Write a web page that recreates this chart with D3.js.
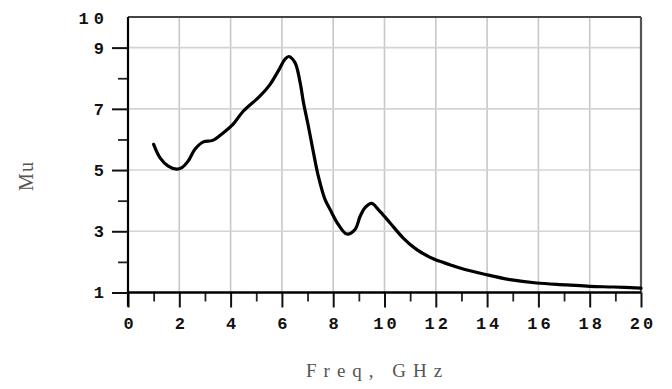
<!DOCTYPE html>
<html>
<head>
<meta charset="utf-8">
<script src="https://cdn.jsdelivr.net/npm/d3@7"></script>
<style>
  html, body { margin: 0; padding: 0; background: #fff; }
  svg { display: block; }
</style>
</head>
<body>
<svg id="chart" width="672" height="389"></svg>
<script>
// Permeability spectrum: Mu versus frequency (GHz)
const freq = [1.0, 1.25, 1.57, 1.9, 2.1, 2.35, 2.61, 2.94, 3.3, 3.72, 4.1, 4.5, 5.15, 5.54, 5.86, 6.12, 6.27, 6.51, 6.71, 6.84, 7.03, 7.23, 7.42, 7.68, 7.88, 8.2, 8.53, 8.85, 9.05, 9.24, 9.5, 9.76, 10.21, 10.73, 11.26, 11.9, 12.55, 12.94, 13.98, 14.89, 15.93, 17.1, 18.01, 18.92, 20.0];
const mu   = [5.84, 5.4, 5.13, 5.03, 5.08, 5.3, 5.68, 5.92, 5.97, 6.22, 6.5, 6.93, 7.42, 7.8, 8.24, 8.62, 8.71, 8.51, 7.86, 7.21, 6.44, 5.57, 4.8, 4.04, 3.71, 3.22, 2.91, 3.06, 3.49, 3.77, 3.91, 3.71, 3.28, 2.78, 2.4, 2.1, 1.91, 1.8, 1.58, 1.42, 1.31, 1.25, 1.2, 1.18, 1.14];

const xMajorTicks = [0, 2, 4, 6, 8, 10, 12, 14, 16, 18, 20];
const xMinorTicks = [1, 3, 5, 7, 9, 11, 13, 15, 17, 19];
const yMajorTicks = [1, 3, 5, 7, 9];
const yMinorTicks = [2, 4, 6, 8];
const yTopLabel = [10];

const xTitle = "Freq, GHz";
const yTitle = "Mu";

const svg = d3.select("#chart");
const mLeft = 128, mRight = 641, mTop = 17, mBottom = 292.5;

const x = d3.scaleLinear().domain([0, 20]).range([mLeft, mRight]);
const y = d3.scaleLinear().domain([1, 10]).range([mBottom, mTop]);

const tickFont = "'Liberation Mono', 'DejaVu Sans Mono', monospace";
const tickSize = 17, tickSpacing = 3;

// grid
svg.append("g").selectAll("line").data(xMajorTicks.slice(1, -1)).join("line")
  .attr("x1", d => x(d)).attr("x2", d => x(d))
  .attr("y1", mTop).attr("y2", mBottom)
  .attr("stroke", "#c8c8c8").attr("stroke-width", 1.6);
svg.append("g").selectAll("line").data(yMajorTicks.slice(1)).join("line")
  .attr("x1", mLeft).attr("x2", mRight)
  .attr("y1", d => y(d)).attr("y2", d => y(d))
  .attr("stroke", "#d4d4d4").attr("stroke-width", 1.6);

// frame: top and right
svg.append("line").attr("x1", mLeft).attr("x2", mRight).attr("y1", mTop).attr("y2", mTop)
  .attr("stroke", "#444").attr("stroke-width", 2);
svg.append("line").attr("x1", mRight).attr("x2", mRight).attr("y1", mTop).attr("y2", mBottom)
  .attr("stroke", "#555").attr("stroke-width", 2.2);

function styleLabels(g) {
  g.selectAll("text").attr("font-family", tickFont).attr("font-weight", "bold")
    .attr("font-size", tickSize).attr("letter-spacing", tickSpacing).attr("fill", "#111");
}

// axes
svg.append("g").attr("transform", `translate(0,${mBottom})`)
  .call(d3.axisBottom(x).tickValues(xMinorTicks).tickSize(9).tickFormat(""))
  .call(g => g.select(".domain").remove())
  .call(g => g.selectAll("line").attr("stroke", "#222").attr("stroke-width", 1.8));
svg.append("g").attr("transform", `translate(${tickSpacing / 2},${mBottom})`)
  .call(d3.axisBottom(x).tickValues(xMajorTicks).tickSize(15).tickPadding(9).tickFormat(d3.format("d")))
  .call(g => g.select(".domain").remove())
  .call(g => g.selectAll("line").attr("transform", `translate(${-tickSpacing / 2},0)`)
    .attr("stroke", "#111").attr("stroke-width", 2))
  .call(styleLabels);
svg.append("line").attr("x1", mLeft).attr("x2", mRight).attr("y1", mBottom).attr("y2", mBottom)
  .attr("stroke", "#000").attr("stroke-width", 2.4);

svg.append("g").attr("transform", `translate(${mLeft},0)`)
  .call(d3.axisLeft(y).tickValues(yMinorTicks).tickSize(10).tickFormat(""))
  .call(g => g.select(".domain").remove())
  .call(g => g.selectAll("line").attr("stroke", "#222").attr("stroke-width", 1.8));
svg.append("g").attr("transform", `translate(${mLeft},0)`)
  .call(d3.axisLeft(y).tickValues(yMajorTicks).tickSize(16).tickPadding(5).tickFormat(d3.format("d")))
  .call(g => g.select(".domain").attr("stroke", "#000").attr("stroke-width", 2.2).attr("d", `M0,${mTop}V${mBottom + 14}`))
  .call(g => g.selectAll("line").attr("stroke", "#111").attr("stroke-width", 2))
  .call(styleLabels);

// "10" label at the top of the y axis (no tick mark)
svg.append("g").selectAll("text").data(yTopLabel).join("text")
  .attr("x", mLeft - 19).attr("y", d => y(d) + 2)
  .attr("dy", "0.32em").attr("text-anchor", "end")
  .attr("font-family", tickFont).attr("font-weight", "bold")
  .attr("font-size", tickSize).attr("letter-spacing", tickSpacing + 2).attr("fill", "#111")
  .text(d => d);

// curve
const pts = freq.map((f, i) => [f, mu[i]]);
svg.append("path").datum(pts)
  .attr("fill", "none").attr("stroke", "#000").attr("stroke-width", 3.2)
  .attr("stroke-linejoin", "round").attr("stroke-linecap", "round")
  .attr("d", d3.line().x(d => x(d[0])).y(d => y(d[1])).curve(d3.curveCatmullRom.alpha(0.5)));

// titles
svg.append("text").attr("x", 306).attr("y", 377)
  .attr("font-family", "'Liberation Serif', 'DejaVu Serif', serif")
  .attr("font-size", 19).attr("letter-spacing", 7).attr("fill", "#555")
  .text(xTitle);
svg.append("text").attr("transform", "translate(33,176) rotate(-90)")
  .attr("text-anchor", "middle")
  .attr("font-family", "'Liberation Serif', 'DejaVu Serif', serif")
  .attr("font-size", 20).attr("letter-spacing", 1).attr("fill", "#555")
  .text(yTitle);
</script>
</body>
</html>
